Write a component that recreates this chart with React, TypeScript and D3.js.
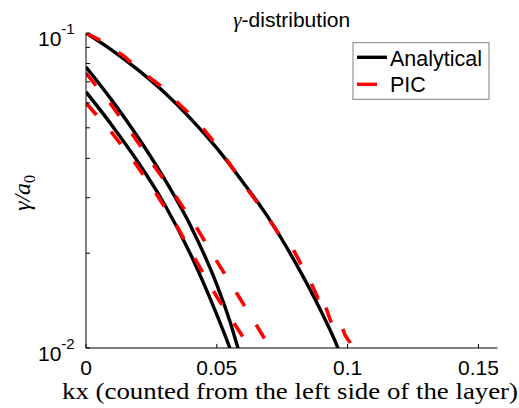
import React from "react";
import * as d3 from "d3";

// ---- data (kx, gamma/a0) ----
const anaKx1 = [0, 0.01, 0.02, 0.03, 0.04, 0.05, 0.06, 0.07, 0.08, 0.09, 0.0963, 0.0975];
const anaG1 = [0.1, 0.0881, 0.0762, 0.0647, 0.0535, 0.0431, 0.0336, 0.0257, 0.0187, 0.013, 0.01, 0.0094];

const anaKx2 = [0, 0.01, 0.02, 0.03, 0.04, 0.05, 0.055, 0.0581, 0.0586];
const anaG2 = [0.078, 0.061, 0.0465, 0.0344, 0.0244, 0.0159, 0.01216, 0.01, 0.0097];

const anaKx3 = [0, 0.01, 0.02, 0.03, 0.04, 0.05, 0.055, 0.0556];
const anaG3 = [0.065, 0.0508, 0.0388, 0.0286, 0.0198, 0.01276, 0.01, 0.0097];

const picKx1 = [0, 0.00726, 0.01491, 0.01873, 0.02446, 0.02905, 0.0344, 0.04167, 0.04778, 0.05466, 0.06193, 0.06843, 0.07416, 0.07875, 0.0818, 0.08563, 0.08869, 0.08983, 0.09174, 0.09442, 0.09709, 0.09901, 0.10092, 0.10206];
const picG1 = [0.1, 0.093, 0.0839, 0.0786, 0.072, 0.0674, 0.0608, 0.0533, 0.0464, 0.0387, 0.0317, 0.0268, 0.0227, 0.0209, 0.0187, 0.0164, 0.0144, 0.015, 0.0134, 0.0116, 0.0121, 0.011, 0.0104, 0.0097];

const picKx2 = [0, 0.00917, 0.01797, 0.02638, 0.03479, 0.04281, 0.05046, 0.0581, 0.06575, 0.07034, 0.071];
const picG2 = [0.0746, 0.06, 0.0474, 0.0375, 0.0299, 0.0237, 0.0186, 0.0147, 0.0116, 0.01, 0.0097];

const picKx3 = [0, 0.00994, 0.01873, 0.02714, 0.03517, 0.04243, 0.05008, 0.05772, 0.06269, 0.0632];
const picG3 = [0.06, 0.0482, 0.0387, 0.0306, 0.024, 0.0187, 0.0145, 0.0116, 0.01, 0.0097];

const xTicks = [0, 0.05, 0.1, 0.15];
const xTickLabels = ["0", "0.05", "0.1", "0.15"];
const yMajor = [0.01, 0.1];
const yMajorExp = ["-2", "-1"];
const yMinor = [0.02, 0.03, 0.04, 0.05, 0.06, 0.07, 0.08, 0.09];
const legendLabels = ["Analytical", "PIC"];

const W = 519, H = 408;
const L = 86, R = 497.5, T = 33, B = 348;

export default function App() {
  const x = d3.scaleLinear().domain([0, 0.1573]).range([L, R]);
  const y = d3.scaleLog().domain([0.01, 0.1]).range([B, T]);

  const toPts = (kx: number[], g: number[]) => kx.map((k, i) => [k, g[i]] as [number, number]);
  const smooth = d3.line<[number, number]>().x(d => x(d[0])).y(d => y(d[1])).curve(d3.curveMonotoneX);
  const lin = d3.line<[number, number]>().x(d => x(d[0])).y(d => y(d[1]));

  const ana = [toPts(anaKx1, anaG1), toPts(anaKx2, anaG2), toPts(anaKx3, anaG3)];
  const pic = [toPts(picKx1, picG1), toPts(picKx2, picG2), toPts(picKx3, picG3)];

  const sans = "'Liberation Sans', Arial, Helvetica, sans-serif";
  const serif = "'Liberation Serif', 'Times New Roman', serif";

  return (
    <svg width={W} height={H} style={{ position: "absolute", left: 0, top: 0, background: "#fff" }}>
      <defs>
        <clipPath id="plotclip">
          <rect x={L} y={T} width={R - L} height={B - T} />
        </clipPath>
      </defs>
      <rect x={0} y={0} width={W} height={H} fill="#fff" />

      <g clipPath="url(#plotclip)">
        {ana.map((p, i) => (
          <path key={"a" + i} d={smooth(p) || ""} fill="none" stroke="#000" strokeWidth={3.4} strokeLinejoin="round" />
        ))}
        {pic.map((p, i) => (
          <path key={"p" + i} d={lin(p) || ""} fill="none" stroke="#ff0000" strokeWidth={3.6} strokeDasharray="16 22" strokeLinejoin="round" />
        ))}
      </g>

      {/* axes */}
      <line x1={L} y1={T} x2={L} y2={B} stroke="#000" strokeWidth={1} />
      <line x1={L} y1={B} x2={R} y2={B} stroke="#000" strokeWidth={1} />
      {xTicks.map((t, i) => (
        <g key={"xt" + i}>
          <line x1={x(t)} x2={x(t)} y1={B} y2={B - 4} stroke="#000" />
          <text x={x(t)} y={375} textAnchor="middle" fontFamily={sans} fontSize={21}>{xTickLabels[i]}</text>
        </g>
      ))}
      {yMinor.concat(yMajor).map((t, i) => (
        <line key={"ym" + i} x1={L} x2={L + 4} y1={y(t)} y2={y(t)} stroke="#000" />
      ))}
      {yMajor.map((t, i) => (
        <text key={"yl" + i} x={38} y={y(t) + 13} fontFamily={sans} fontSize={21}>
          10<tspan dy={-12} fontSize={15}>{yMajorExp[i]}</tspan>
        </text>
      ))}

      {/* title */}
      <text x={(L + R) / 2} y={27} textAnchor="middle" fontFamily={sans} fontSize={21}>
        <tspan fontFamily={serif} fontStyle="italic">γ</tspan>-distribution
      </text>

      {/* axis labels */}
      <text x={290} y={399} textAnchor="middle" fontFamily={serif} fontSize={24} textLength={456} lengthAdjust="spacingAndGlyphs">
        kx (counted from the left side of the layer)
      </text>
      <text transform="translate(30,193) rotate(-90)" textAnchor="middle" fontFamily={serif} fontSize={24} fontStyle="italic">
        γ/a<tspan dy={5} fontSize={16} fontStyle="normal">0</tspan>
      </text>

      {/* legend */}
      <rect x={353} y={42.7} width={136} height={56.6} fill="#fff" stroke="#808080" strokeWidth={1} />
      <line x1={357} x2={387} y1={57.3} y2={57.3} stroke="#000" strokeWidth={3.4} />
      <line x1={357} x2={377} y1={84.3} y2={84.3} stroke="#ff0000" strokeWidth={3.4} />
      <text x={390} y={66} fontFamily={sans} fontSize={21.5}>{legendLabels[0]}</text>
      <text x={390} y={92} fontFamily={sans} fontSize={21.5}>{legendLabels[1]}</text>
    </svg>
  );
}
